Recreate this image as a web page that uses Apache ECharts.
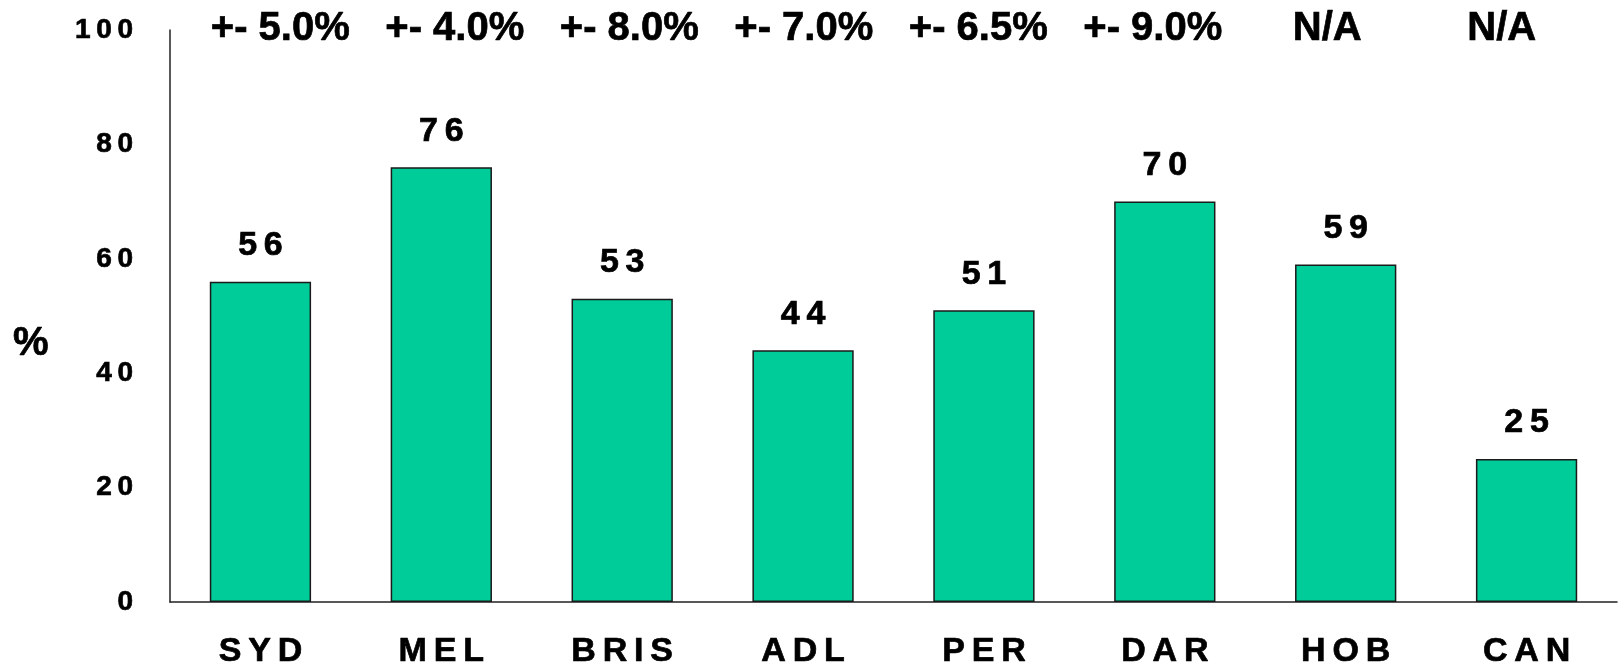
<!DOCTYPE html>
<html>
<head>
<meta charset="utf-8">
<script src="https://cdn.jsdelivr.net/npm/echarts@6/dist/echarts.min.js"></script>
<style>
  html, body { margin: 0; padding: 0; background: #ffffff; }
  #chart { width: 1619px; height: 671px; }
</style>
</head>
<body>
<div id="chart"></div>
<script>
// city codes along the x axis
const cities = ['SYD', 'MEL', 'BRIS', 'ADL', 'PER', 'DAR', 'HOB', 'CAN'];
// percentage for each city
const values = [56, 76, 53, 44, 51, 70, 59, 25];
// margin of error printed above each column
const margins = ['+- 5.0%', '+- 4.0%', '+- 8.0%', '+- 7.0%', '+- 6.5%', '+- 9.0%', 'N/A', 'N/A'];

const FONT = '"Liberation Sans", Arial, sans-serif';

// the original text is stretched wide, so space out the characters
function spaced(text) {
  return String(text).split('').join('\u2009');
}

// heavier strokes, the source text is very bold
const heavy = {
  fontFamily: FONT,
  fontWeight: 'bold',
  color: '#000000',
  textBorderColor: '#000000',
  textBorderWidth: 0.7,
};

const chart = echarts.init(document.getElementById('chart'));

chart.setOption({
  animation: false,
  backgroundColor: '#ffffff',
  title: {
    text: '%',
    left: 8,
    top: 319,
    textStyle: Object.assign({}, heavy, { fontSize: 40 }),
  },
  grid: [
    { left: 170, right: 2, top: 30, bottom: 69 },
    // helper grid so the error margins sit on their own even spacing
    { left: 193, right: 30, top: 30, bottom: 69 },
  ],
  xAxis: [
    {
      type: 'category',
      gridIndex: 0,
      data: cities,
      axisLine: { show: true, lineStyle: { color: '#222222', width: 1.5 } },
      axisTick: { show: false },
      axisLabel: Object.assign({}, heavy, {
        interval: 0,
        margin: 33,
        fontSize: 34,
        formatter: value => spaced(value),
      }),
    },
    {
      type: 'category',
      gridIndex: 1,
      position: 'top',
      data: margins,
      axisLine: { show: false },
      axisTick: { show: false },
      axisLabel: Object.assign({}, heavy, {
        interval: 0,
        hideOverlap: false,
        margin: -19,
        fontSize: 40,
      }),
    },
  ],
  yAxis: [
    {
      type: 'value',
      gridIndex: 0,
      min: 0,
      max: 100,
      interval: 20,
      axisLine: { show: true, lineStyle: { color: '#222222', width: 1.5 } },
      axisTick: { show: false },
      splitLine: { show: false },
      axisLabel: Object.assign({}, heavy, {
        margin: 37,
        fontSize: 28,
        formatter: value => spaced(value),
      }),
    },
    {
      type: 'value',
      gridIndex: 1,
      min: 0,
      max: 100,
      show: false,
    },
  ],
  series: [
    {
      type: 'bar',
      xAxisIndex: 0,
      yAxisIndex: 0,
      data: values,
      barWidth: '56%',
      itemStyle: {
        color: '#00CC99',
        borderColor: '#1a1a1a',
        borderWidth: 1.5,
      },
      label: Object.assign({}, heavy, {
        show: true,
        position: 'top',
        distance: 19,
        fontSize: 34,
        formatter: params => spaced(params.value),
      }),
    },
  ],
});
</script>
</body>
</html>
